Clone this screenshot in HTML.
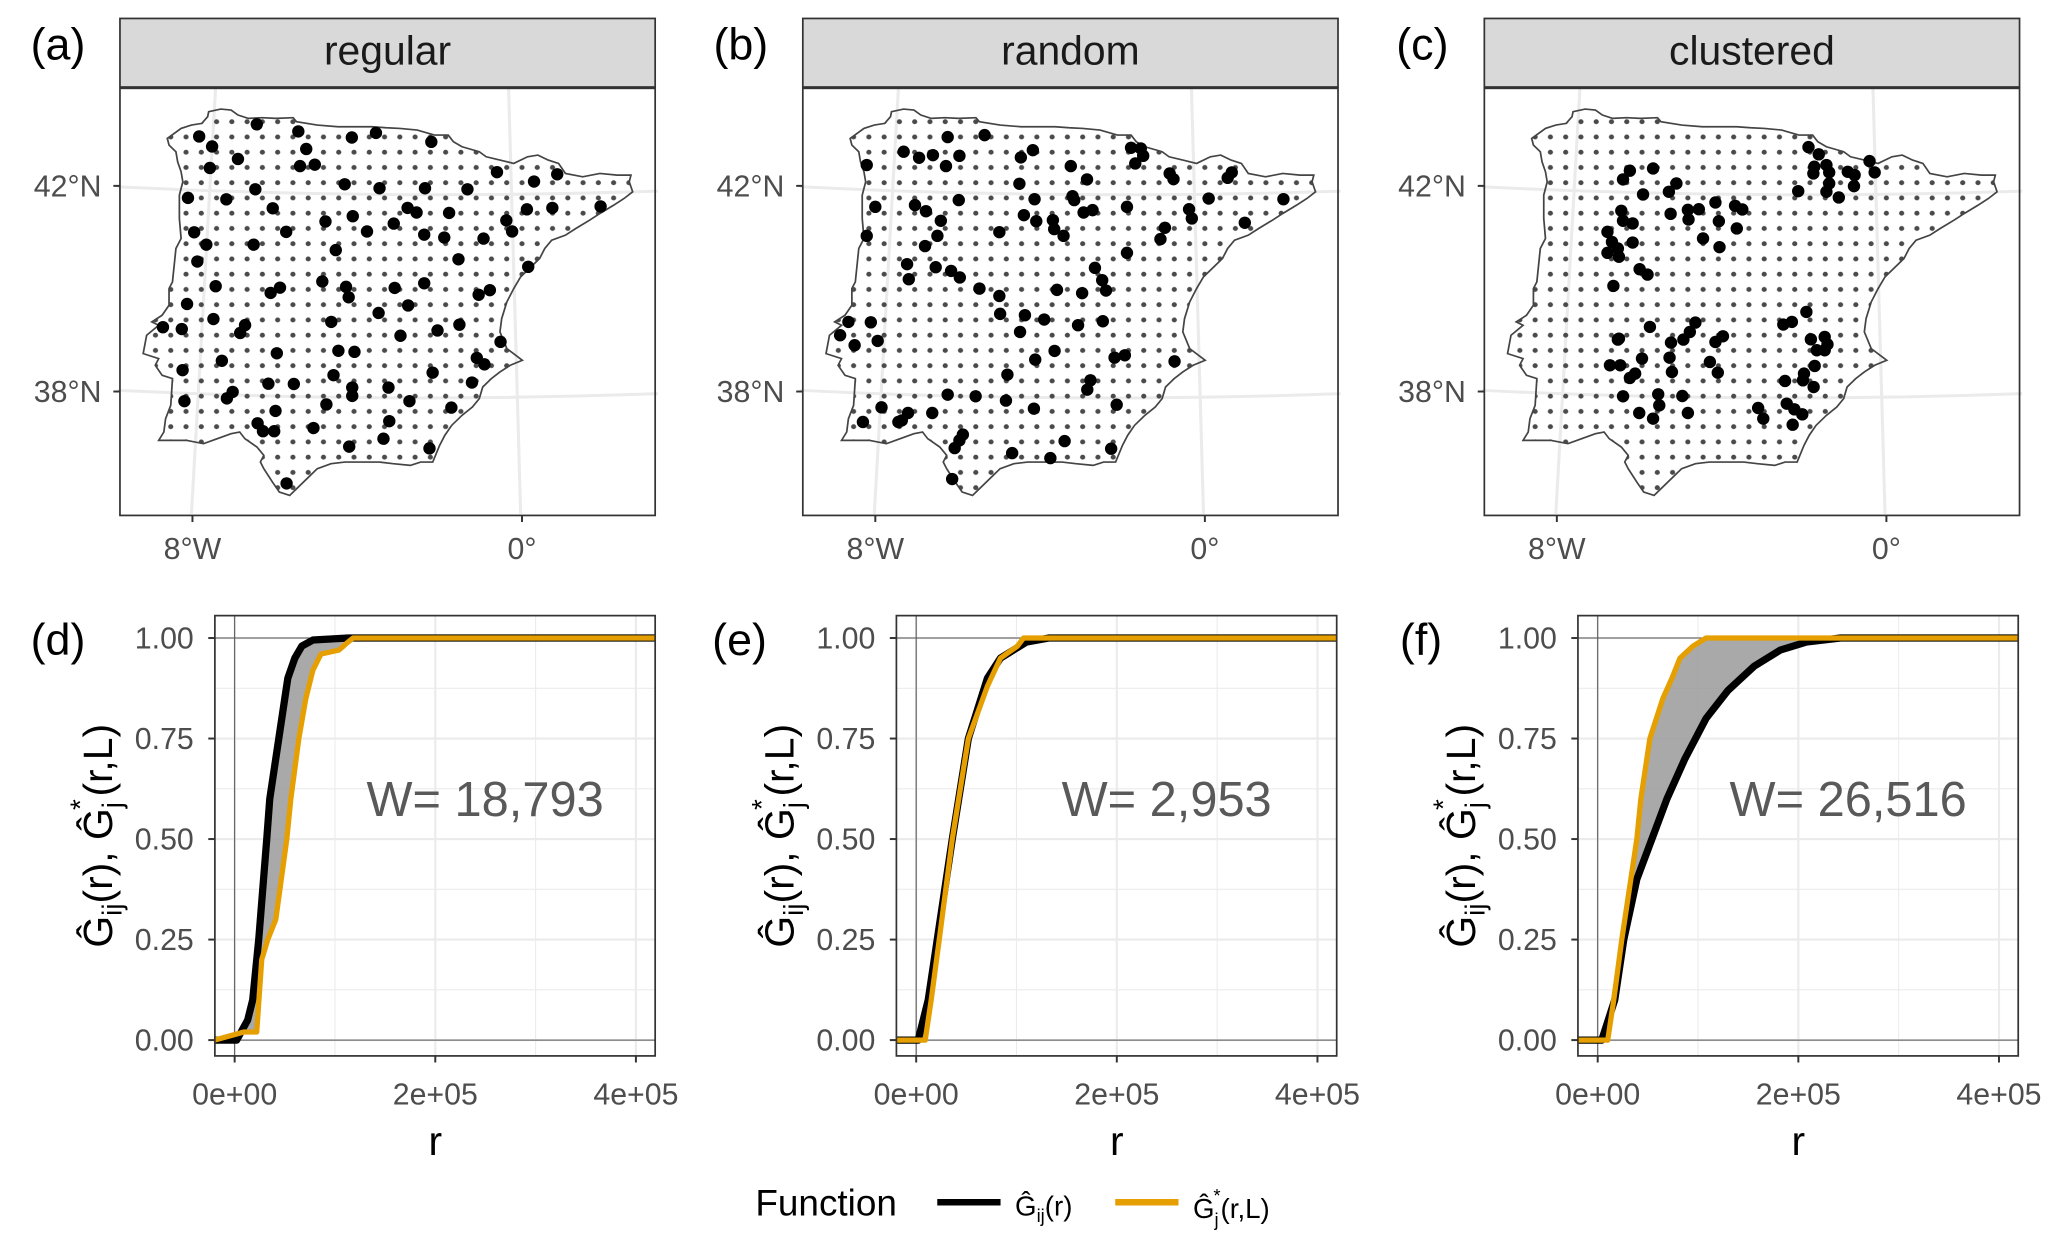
<!DOCTYPE html>
<html><head><meta charset="utf-8"><style>
html,body{margin:0;padding:0;background:#fff}
svg{display:block;font-family:"Liberation Sans","DejaVu Sans",sans-serif}
</style></head><body>
<svg id="fig" width="2067" height="1246" viewBox="0 0 1568 945.2" xmlns="http://www.w3.org/2000/svg">
<defs>
<pattern id="grid" patternUnits="userSpaceOnUse" x="132.85" y="87.15" width="44.3" height="45.7">
<circle cx="22.15" cy="22.85" r="7.5" fill="#4a4a4a"/>
</pattern>
<path id="iberia" d="M145,160 L165,145 185,130 215,120 245,115 262,95 265,80 300,72 330,75 350,90 380,100 420,98 460,100 510,98 520,110 580,120 640,125 690,125 740,125 780,128 820,130 870,135 920,150 960,150 975,170 1000,185 1050,200 1070,215 1110,225 1150,235 1190,215 1220,210 1250,225 1280,235 1300,265 1350,275 1400,265 1450,270 1490,270 1485,290 1495,320 1470,340 1440,360 1400,385 1370,405 1330,430 1300,450 1260,465 1240,490 1225,520 1200,545 1170,575 1150,610 1130,650 1115,700 1110,740 1130,790 1175,825 1140,840 1110,860 1085,880 1060,905 1050,940 1030,965 1000,990 970,1020 950,1050 935,1080 915,1130 880,1130 850,1140 800,1135 760,1130 700,1130 660,1130 620,1135 580,1150 560,1170 520,1210 500,1230 470,1220 450,1190 425,1150 415,1130 425,1110 405,1085 370,1060 355,1040 330,1045 290,1060 250,1075 200,1065 120,1065 135,1040 140,1000 155,960 160,880 130,870 110,840 120,820 75,805 85,750 120,720 100,710 130,690 150,660 150,610 160,590 165,540 170,490 185,460 180,400 180,330 190,290 185,260 175,230 170,200 150,180 Z"/>
</defs>
<g id="root"></g>
</svg>
<script>
const ptsRegular = [[575,348],[446,382],[668,368],[788,385],[842,372],[966,397],[475,410],[686,417],[533,445],[470,470],[672,465],[705,461],[572,530],[772,516],[850,527],[952,527],[1047,530],[1113,482],[1196,508],[1248,488],[421,554],[507,558],[611,583],[729,620],[790,605],[882,626],[913,582],[933,595],[1006,596],[1180,586],[1237,582],[1345,578],[1134,617],[1147,648],[435,650],[641,649],[822,648],[950,657],[995,665],[1083,668],[462,685],[568,685],[752,700],[442,732],[1027,726],[1183,747],[722,788],[483,801],[606,820],[627,805],[775,803],[781,832],[884,806],[950,793],[1072,825],[1097,812],[419,851],[914,855],[848,876],[478,893],[742,901],[365,916],[407,921],[549,910],[538,932],[897,940],[980,925],[1029,909],[1121,957],[620,989],[758,982],[794,985],[1068,1002],[1085,1020],[497,1010],[409,1036],[747,1050],[969,1043],[601,1074],[658,1075],[789,1085],[789,1108],[870,1085],[1057,1071],[508,1115],[521,1097],[413,1123],[731,1132],[917,1123],[1011,1141],[617,1150],[872,1179],[577,1185],[589,1207],[614,1207],[702,1198],[859,1228],[782,1250],[962,1255],[642,1353]];
const ptsRandom = [[428,156],[535,150],[300,200],[345,218],[385,210],[462,212],[423,243],[193,240],[640,217],[675,195],[785,243],[832,283],[960,188],[988,190],[995,212],[972,235],[1072,265],[1083,282],[1252,262],[1240,278],[636,296],[460,345],[680,342],[790,333],[795,345],[218,365],[333,360],[365,378],[408,407],[398,452],[362,483],[193,452],[578,441],[649,390],[685,408],[733,405],[737,432],[764,452],[822,382],[848,375],[948,365],[1185,340],[1402,342],[1128,372],[1136,400],[1290,413],[1058,428],[1045,462],[948,503],[310,537],[393,546],[438,557],[463,577],[315,582],[520,610],[578,632],[745,614],[818,624],[855,548],[876,585],[887,616],[580,686],[652,690],[708,703],[806,720],[878,708],[140,710],[205,711],[116,750],[158,780],[225,767],[638,740],[738,797],[682,823],[912,817],[942,810],[1086,828],[601,868],[842,885],[833,913],[428,928],[509,933],[597,946],[678,970],[918,958],[236,966],[313,983],[383,983],[182,1010],[285,1010],[295,1005],[472,1048],[462,1065],[448,1088],[767,1067],[615,1103],[726,1118],[902,1090],[441,1181]];
const ptsClustered = [[948,186],[978,208],[965,245],[962,265],[1000,240],[1008,262],[1008,295],[1000,320],[1036,337],[918,318],[1062,260],[1082,270],[1080,303],[1125,228],[1140,262],[430,257],[410,283],[497,250],[565,295],[543,320],[468,328],[405,377],[410,407],[438,415],[548,386],[598,374],[630,372],[600,403],[678,352],[735,362],[756,373],[688,408],[740,430],[642,460],[690,486],[365,440],[378,470],[395,490],[365,503],[398,515],[438,472],[458,552],[481,568],[382,602],[942,680],[875,718],[900,710],[488,725],[620,712],[604,740],[585,763],[549,772],[700,753],[678,770],[395,763],[398,760],[955,762],[995,755],[1003,777],[972,795],[995,795],[465,820],[545,817],[372,840],[402,840],[445,865],[430,878],[552,860],[662,830],[685,862],[966,842],[935,865],[932,885],[880,887],[963,905],[410,933],[512,927],[582,932],[515,960],[457,983],[497,1000],[598,983],[802,968],[817,1000],[885,955],[907,972],[930,987],[902,1018]];

const dBlackR = [-20,2,13,18,24,32,35,44,50,53,60,67,78,113,420];
const dBlackG = [0,0,0.05,0.1,0.25,0.5,0.6,0.75,0.85,0.9,0.95,0.98,0.995,1,1];
const dOrangeR = [-20,9,22,27,33,41,52,56,64,71,78,86,104,113,118,420];
const dOrangeG = [0,0.02,0.02,0.2,0.25,0.3,0.5,0.6,0.75,0.85,0.92,0.96,0.97,0.99,1,1];
const eBlackR = [-20,2,12,21,36,52,71,84,110,132,420];
const eBlackG = [0,0,0.1,0.25,0.5,0.75,0.9,0.95,0.99,1,1];
const eOrangeR = [-20,9,15,23,36,52,71,84,101,107,420];
const eOrangeG = [0,0,0.1,0.25,0.5,0.75,0.88,0.95,0.98,1,1];
const fBlackR = [-20,4,17,26,39,54,69,87,108,130,156,182,208,242,420];
const fBlackG = [0,0,0.1,0.25,0.4,0.5,0.6,0.7,0.8,0.87,0.93,0.97,0.99,1,1];
const fOrangeR = [-20,10,16,24,30,39,43,52,65,74,82,95,108,420];
const fOrangeG = [0,0,0.1,0.25,0.35,0.5,0.6,0.75,0.85,0.9,0.95,0.98,1,1];
const xTickVals = [0,200,400];
const xTickLabels = ["0e+00","2e+05","4e+05"];
const yTickVals = [0,0.25,0.5,0.75,1];
const yTickLabels = ["0.00","0.25","0.50","0.75","1.00"];
const wLabels = ["W= 18,793","W= 2,953","W= 26,516"];
const stripLabels = ["regular","random","clustered"];

const NS="http://www.w3.org/2000/svg";
const root=document.getElementById('root');
function mk(tag,attrs,parent,text){const e=document.createElementNS(NS,tag);for(const k in attrs)e.setAttribute(k,attrs[k]);if(text!==undefined)e.textContent=text;(parent||root).appendChild(e);return e;}

const mapX=[91,609,1126];
const tags=["(a)","(b)","(c)","(d)","(e)","(f)"];
const ptSets=[ptsRegular,ptsRandom,ptsClustered];
const slug=["regular","random","clustered"];
for(let i=0;i<3;i++){
  const x0=mapX[i];
  const g=mk('g',{});
  
  
  const strip=mk('rect',{x:x0,y:14,width:406,height:52,fill:'#d9d9d9',stroke:'#333','stroke-width':1.3},g);
  
  
  const st=mk('text',{x:x0+203,y:49,'text-anchor':'middle','font-size':31,fill:'#1a1a1a'},g,stripLabels[i]);
  
  
  const tg=mk('text',{x:[44,562,1079][i],y:45,'text-anchor':'middle','font-size':34,fill:'#000'},g,tags[i]);
  
  
  mk('rect',{x:x0,y:67,width:406,height:324,fill:'#fff'},g);
  const ox=x0-2, sx=0.2615, sy=0.2531, oy=64.5;
  const m=mk('g',{transform:`translate(${ox},${oy}) scale(${sx},${sy})`},g);
  mk('path',{d:'M0,305 Q780,345 1568,318','fill':'none',stroke:'#ebebeb','stroke-width':9},m);
  mk('path',{d:'M0,915 Q780,955 1568,925','fill':'none',stroke:'#ebebeb','stroke-width':9},m);
  mk('path',{d:'M285,10 L215,1285','fill':'none',stroke:'#ebebeb','stroke-width':9},m);
  mk('path',{d:'M1135,10 L1170,1285','fill':'none',stroke:'#ebebeb','stroke-width':9},m);
  const land=mk('path',{d:document.getElementById('iberia').getAttribute('d'),fill:'url(#grid)',stroke:'#444','stroke-width':5},m);
  
  
  mk('rect',{x:x0,y:67,width:406,height:324,fill:'none',stroke:'#333','stroke-width':1.3},g);
  const pts=ptSets[i];
  for(const p of pts){
    let px,py;
    if(i===0){px=p[0]*0.3387;py=p[1]*0.271;}
    else{px=ox+p[0]*sx;py=oy+p[1]*sy;}
    const c=mk('circle',{cx:px.toFixed(1),cy:py.toFixed(1),r:4.7,fill:'#000'},g);
    
    
  }
  const lat=[[141,"42°N"],[297,"38°N"]];
  for(const [yy,lb] of lat){
    mk('line',{x1:x0-5,x2:x0,y1:yy,y2:yy,stroke:'#333','stroke-width':1.5},g);
    const t=mk('text',{x:x0-14,y:yy+8,'text-anchor':'end','font-size':23,fill:'#4d4d4d'},g,lb);
    
    
  }
  const lon=[[55,"8°W"],[305,"0°"]];
  for(const [xx,lb] of lon){
    mk('line',{x1:x0+xx,x2:x0+xx,y1:391,y2:396,stroke:'#333','stroke-width':1.5},g);
    const t=mk('text',{x:x0+xx,y:424,'text-anchor':'middle','font-size':23,fill:'#4d4d4d'},g,lb);
    
    
  }
}

const cdfL=[163,680,1197];
const series=[[dBlackR,dBlackG,dOrangeR,dOrangeG],[eBlackR,eBlackG,eOrangeR,eOrangeG],[fBlackR,fBlackG,fOrangeR,fOrangeG]];
const pTop=467,pBot=801;
for(let i=0;i<3;i++){
  const L=cdfL[i], R=L+334, z=L+15;
  const X=r=>z+r/100*76.1;
  const Y=v=>789-v*305;
  const g=mk('g',{});
  
  
  const cp='clip'+i;
  const cl=mk('clipPath',{id:cp},g);mk('rect',{x:L,y:pTop,width:334,height:pBot-pTop},cl);
  for(const v of [0.125,0.375,0.625,0.875]) mk('line',{x1:L,x2:R,y1:Y(v),y2:Y(v),stroke:'#ebebeb','stroke-width':0.8},g);
  for(const r of [100,300]) mk('line',{x1:X(r),x2:X(r),y1:pTop,y2:pBot,stroke:'#ebebeb','stroke-width':0.8},g);
  for(const v of yTickVals) mk('line',{x1:L,x2:R,y1:Y(v),y2:Y(v),stroke:'#ebebeb','stroke-width':1.6},g);
  for(const r of xTickVals) mk('line',{x1:X(r),x2:X(r),y1:pTop,y2:pBot,stroke:'#ebebeb','stroke-width':1.6},g);
  mk('line',{x1:X(0),x2:X(0),y1:pTop,y2:pBot,stroke:'#555','stroke-width':0.8},g);
  mk('line',{x1:L,x2:R,y1:Y(0),y2:Y(0),stroke:'#555','stroke-width':0.8},g);
  mk('line',{x1:L,x2:R,y1:Y(1),y2:Y(1),stroke:'#555','stroke-width':0.8},g);
  const [bR,bG,oR,oG]=series[i];
  const bp=bR.map((r,k)=>[X(r),Y(bG[k])]);
  const op=oR.map((r,k)=>[X(r),Y(oG[k])]);
  const fillPts=bp.concat(op.slice().reverse()).map(p=>p[0].toFixed(1)+','+p[1].toFixed(1)).join(' ');
  const area=mk('polygon',{points:fillPts,fill:'#9a9a9a','fill-opacity':0.85,'clip-path':`url(#${cp})`},g);
  
  
  const bl=mk('polyline',{points:bp.map(p=>p.join(',')).join(' '),fill:'none',stroke:'#000','stroke-width':5.5,'stroke-linejoin':'round','clip-path':`url(#${cp})`},g);
  
  
  const ol=mk('polyline',{points:op.map(p=>p.join(',')).join(' '),fill:'none',stroke:'#E69F00','stroke-width':4,'stroke-linejoin':'round','clip-path':`url(#${cp})`},g);
  
  
  mk('rect',{x:L,y:pTop,width:334,height:pBot-pTop,fill:'none',stroke:'#333','stroke-width':1.3},g);
  yTickVals.forEach((v,k)=>{
    mk('line',{x1:L-5,x2:L,y1:Y(v),y2:Y(v),stroke:'#333','stroke-width':1.5},g);
    const t=mk('text',{x:L-16,y:Y(v)+8,'text-anchor':'end','font-size':23,fill:'#4d4d4d'},g,yTickLabels[k]);
    
    
  });
  xTickVals.forEach((r,k)=>{
    mk('line',{x1:X(r),x2:X(r),y1:pBot,y2:pBot+5,stroke:'#333','stroke-width':1.5},g);
    const t=mk('text',{x:X(r),y:pBot+37,'text-anchor':'middle','font-size':23,fill:'#4d4d4d'},g,xTickLabels[k]);
    
    
  });
  const xt=mk('text',{x:X(200),y:876,'text-anchor':'middle','font-size':31,fill:'#000'},g,'r');
  
  
  const w=mk('text',{x:L+205,y:619,'text-anchor':'middle','font-size':37,fill:'#595959'},g,wLabels[i]);
  
  
  const tg=mk('text',{x:L-119,y:497,'text-anchor':'middle','font-size':34,fill:'#000'},g,tags[i+3]);
  
  
  const yt=mk('text',{transform:`translate(${L-78},634) rotate(-90)`,'text-anchor':'middle','font-size':31,fill:'#000'},g);
  
  
  mk('tspan',{},yt,'G\u0302');
  mk('tspan',{'font-size':21,dy:7},yt,'ij');
  mk('tspan',{dy:-7},yt,'(r), G\u0302');
  mk('tspan',{'font-size':21,dy:7},yt,'j');
  mk('tspan',{'font-size':21,dy:-24,dx:-6},yt,'*');
  mk('tspan',{dy:17,dx:2},yt,'(r,L)');
}

const lg=mk('g',{});


const lt=mk('text',{x:573,y:922,'font-size':28,fill:'#000'},lg,'Function');


const k1=mk('line',{x1:711,x2:759,y1:912,y2:912,stroke:'#000','stroke-width':5},lg);


const l1=mk('text',{x:770,y:922,'font-size':21,fill:'#000'},lg);


mk('tspan',{},l1,'G\u0302');mk('tspan',{'font-size':14,dy:5},l1,'ij');mk('tspan',{dy:-5},l1,'(r)');
const k2=mk('line',{x1:846,x2:894,y1:912,y2:912,stroke:'#E69F00','stroke-width':5},lg);


const l2=mk('text',{x:905,y:924,'font-size':21,fill:'#000'},lg);


mk('tspan',{},l2,'G\u0302');mk('tspan',{'font-size':14,dy:6},l2,'j');mk('tspan',{'font-size':14,dy:-18,dx:-4},l2,'*');mk('tspan',{dy:12},l2,'(r,L)');
</script>
</body></html>
